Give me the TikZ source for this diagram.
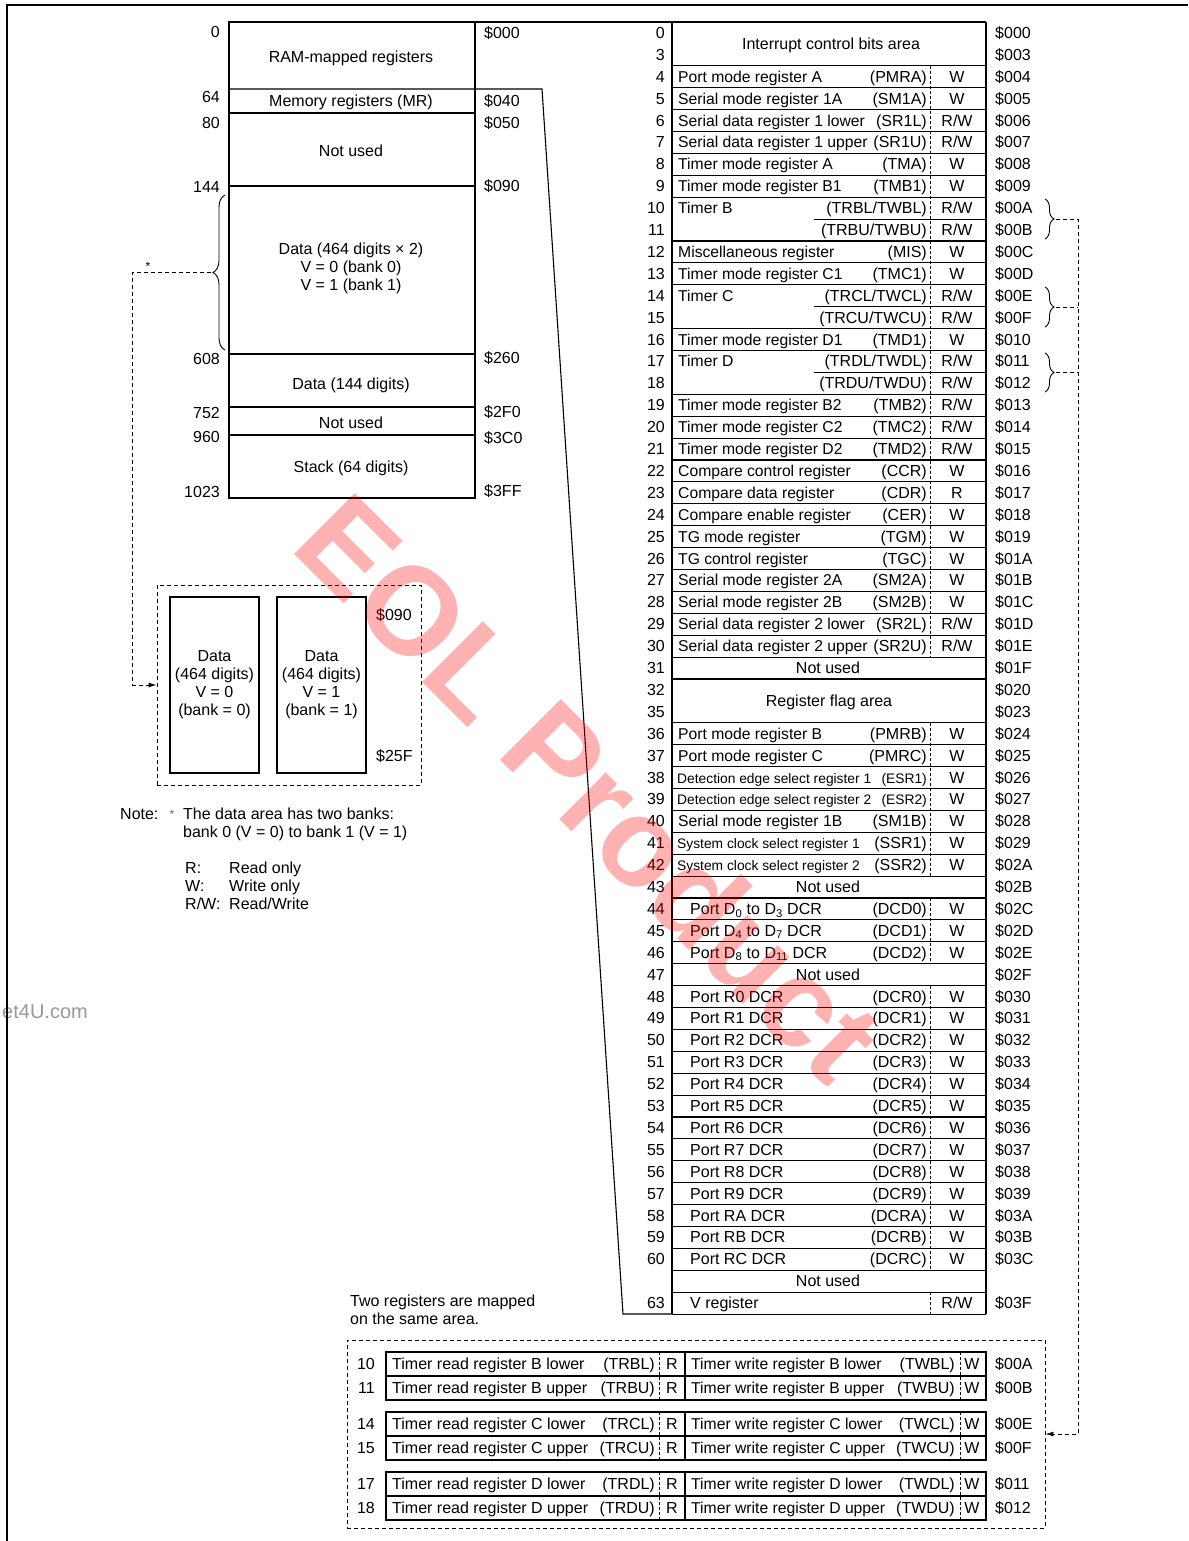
\documentclass[tikz,border=0pt]{standalone}
\usepackage{fontspec}
\setmainfont{Liberation Sans}
\usetikzlibrary{arrows.meta,positioning,calc,decorations.pathreplacing}

\begin{document}
\begin{tikzpicture}[x=1pt, y=-1pt,
  every node/.style={font=\fontsize{16}{18}\selectfont, inner sep=0pt, text height=12pt, text depth=1pt},
  multi/.style={align=center, text height={}, text depth={}},
  rule/.style={line width=1.1pt},
  lnk/.style={line width=0.9pt, dash pattern=on 4pt off 3pt},
  sep/.style={line width=0.8pt, dash pattern=on 3pt off 2pt},
  arr/.style={-{Latex[length=8pt,width=5pt]}},
  brc/.style={line width=0.9pt, decorate, decoration={brace, amplitude=#1}},
  regname/.style={font=\fontsize{15.7}{18}\selectfont},
  small/.style={font=\fontsize{13.8}{16}\selectfont},
  norm/.style={},
  fr/.style={draw, line width=1.1pt}]
\useasboundingbox (0,0) rectangle (1188,1541);
% side text and frame
\node[anchor=east, text=black!40, font=\fontsize{20}{20}\selectfont] (ds) at (88,1013) {et4U.com};
\draw[rule] (7,1541) -- (7,5) -- (1188,5);
% RAM map
\draw[rule] (229,22) rectangle (475,498);
\foreach \y in {113,186,354,407,435} \draw[rule] (229,\y) -- (475,\y);
\draw[rule] (475,22) -- (986,22);
\draw[rule] (229,89) -- (542,89) -- (623,1314) -- (672,1314);
\foreach \y/\d in {32/0,97/64,123/80,187/144,359/608,413/752,437/960,492/1023}
  \node[anchor=east] (dec\d) at (220,\y) {\d};
\foreach \y/\h in {33/000,101/040,123/050,186/090,358/260,412/2F0,438/3C0,491/3FF}
  \node[anchor=west] (hex\h) at (484,\y) {\$\h};
\node (ramreg) at (351,57) {RAM-mapped registers};
\node (memreg) at (351,101) {Memory registers (MR)};
\node (unusedA) at (351,151) {Not used};
\node[multi] (databank) at (351,268) {Data (464 digits × 2)\\V = 0 (bank 0)\\V = 1 (bank 1)};
\node (datafix) at (351,384) {Data (144 digits)};
\node (unusedB) at (351,423) {Not used};
\node (stack) at (351,467) {Stack (64 digits)};
% banks
\draw[brc=12pt] (225,350) -- (225,195);
\coordinate (bktip) at (211,272.5);
\node[font=\fontsize{12}{12}\selectfont] (bkstar) at (148,265) {*};
\node[draw, lnk, minimum width=264pt, minimum height=200pt, text height={}, text depth={}] (bankbox) at (289,685) {};
\node[fr, multi, minimum width=89pt, minimum height=176pt] (bank0) at (214.5,685) {Data\\(464 digits)\\V = 0\\(bank = 0)};
\node[fr, multi, minimum width=89pt, minimum height=176pt] (bank1) at (321.5,685) {Data\\(464 digits)\\V = 1\\(bank = 1)};
\node[anchor=west] (bktop) at (376,615) {\$090};
\node[anchor=west] (bkbot) at (376,756) {\$25F};
\draw[lnk, arr] (bktip) -| ([xshift=-24pt]bankbox.west) -- (bankbox.west);
% notes
\node[anchor=west] (note) at (120,814) {Note:};
\node[text=black!60, font=\fontsize{12}{12}\selectfont] (nstar) at (172,813) {*};
\node[anchor=west] (noteA) at (183,814) {The data area has two banks:};
\node[anchor=west] (noteB) at (183,832) {bank 0 (V = 0) to bank 1 (V = 1)};
\foreach \y/\k/\t in {868/R:/Read only,886/W:/Write only,904/{R/W:}/{Read/Write}} {
  \node[anchor=west] (key\y) at (185,\y) {\k};
  \node[anchor=west] (txt\y) at (229,\y) {\t};
}
\node[anchor=west] (mapA) at (350,1301) {Two registers are mapped};
\node[anchor=west] (mapB) at (350,1319) {on the same area.};
% register table
\draw[rule] (672,22) -- (672,1314);
\draw[rule] (986,22) -- (986,1314);
\foreach \i in {0,2,3,4,5,6,7,8,10,11,12,14,15,17,18,...,30,32,33,...,59}
  \draw[rule] (672,{22+\i*21.9}) -- (986,{22+\i*21.9});
\foreach \i in {9,13,16}
  \draw[rule] (814,{22+\i*21.9}) -- (986,{22+\i*21.9});
\foreach \a/\b in {2/29,32/39,40/43,44/57,58/59}
  \draw[sep] (930,{22+\a*21.9}) -- (930,{22+\b*21.9});
\node (intr) at (831,43.9) {Interrupt control bits area};
\node (flags) at (829,700.8) {Register flag area};
\foreach \s in {29,39,43,57}
  \node (nu\s) at (828,{22+(\s+0.5)*21.9}) {Not used};
\foreach \s/\n/\ad in {0/0/000,1/3/003,29/31/01F,30/32/020,31/35/023,39/43/02B,43/47/02F} {
  \node[anchor=east] (num\s) at (665,{22+(\s+0.5)*21.9}) {\n};
  \node[anchor=west] (adr\s) at (995,{22+(\s+0.5)*21.9}) {\$\ad};
}
\foreach \s/\n/\nm/\ab/\ac/\ad in {
  2/4/Port mode register A/(PMRA)/W/004,
  3/5/Serial mode register 1A/(SM1A)/W/005,
  4/6/Serial data register 1 lower/(SR1L)/{R/W}/006,
  5/7/Serial data register 1 upper/(SR1U)/{R/W}/007,
  6/8/Timer mode register A/(TMA)/W/008,
  7/9/Timer mode register B1/(TMB1)/W/009,
  8/10/Timer B/{(TRBL/TWBL)}/{R/W}/00A,
  9/11/{}/{(TRBU/TWBU)}/{R/W}/00B,
  10/12/Miscellaneous register/(MIS)/W/00C,
  11/13/Timer mode register C1/(TMC1)/W/00D,
  12/14/Timer C/{(TRCL/TWCL)}/{R/W}/00E,
  13/15/{}/{(TRCU/TWCU)}/{R/W}/00F,
  14/16/Timer mode register D1/(TMD1)/W/010,
  15/17/Timer D/{(TRDL/TWDL)}/{R/W}/011,
  16/18/{}/{(TRDU/TWDU)}/{R/W}/012,
  17/19/Timer mode register B2/(TMB2)/{R/W}/013,
  18/20/Timer mode register C2/(TMC2)/{R/W}/014,
  19/21/Timer mode register D2/(TMD2)/{R/W}/015,
  20/22/Compare control register/(CCR)/W/016,
  21/23/Compare data register/(CDR)/R/017,
  22/24/Compare enable register/(CER)/W/018,
  23/25/TG mode register/(TGM)/W/019,
  24/26/TG control register/(TGC)/W/01A,
  25/27/Serial mode register 2A/(SM2A)/W/01B,
  26/28/Serial mode register 2B/(SM2B)/W/01C,
  27/29/Serial data register 2 lower/(SR2L)/{R/W}/01D,
  28/30/Serial data register 2 upper/(SR2U)/{R/W}/01E,
  32/36/Port mode register B/(PMRB)/W/024,
  33/37/Port mode register C/(PMRC)/W/025,
  36/40/Serial mode register 1B/(SM1B)/W/028} {
  \pgfmathsetmacro\yc{22+(\s+0.5)*21.9}
  \node[anchor=east] (num\s) at (665,\yc) {\n};
  \node[anchor=west, regname] (reg\s) at (678,\yc) {\nm};
  \node[anchor=east] (abr\s) at (927,\yc) {\ab};
  \node (acc\s) at (957,\yc) {\ac};
  \node[anchor=west] (adr\s) at (995,\yc) {\$\ad};
}
\foreach \s/\n/\nm/\ab/\fs/\ad in {
  34/38/Detection edge select register 1/(ESR1)/small/026,
  35/39/Detection edge select register 2/(ESR2)/small/027,
  37/41/System clock select register 1/(SSR1)/norm/029,
  38/42/System clock select register 2/(SSR2)/norm/02A} {
  \pgfmathsetmacro\yc{22+(\s+0.5)*21.9}
  \node[anchor=east] (num\s) at (665,\yc) {\n};
  \node[anchor=west, small] (reg\s) at (677,\yc) {\nm};
  \node[anchor=east, \fs] (abr\s) at (927,\yc) {\ab};
  \node (acc\s) at (957,\yc) {W};
  \node[anchor=west] (adr\s) at (995,\yc) {\$\ad};
}
\foreach \s/\n/\nm/\ab/\ac/\ad in {
  40/44/{Port D\textsubscript{0} to D\textsubscript{3} DCR}/(DCD0)/W/02C,
  41/45/{Port D\textsubscript{4} to D\textsubscript{7} DCR}/(DCD1)/W/02D,
  42/46/{Port D\textsubscript{8} to D\textsubscript{11} DCR}/(DCD2)/W/02E,
  44/48/Port R0 DCR/(DCR0)/W/030,
  45/49/Port R1 DCR/(DCR1)/W/031,
  46/50/Port R2 DCR/(DCR2)/W/032,
  47/51/Port R3 DCR/(DCR3)/W/033,
  48/52/Port R4 DCR/(DCR4)/W/034,
  49/53/Port R5 DCR/(DCR5)/W/035,
  50/54/Port R6 DCR/(DCR6)/W/036,
  51/55/Port R7 DCR/(DCR7)/W/037,
  52/56/Port R8 DCR/(DCR8)/W/038,
  53/57/Port R9 DCR/(DCR9)/W/039,
  54/58/Port RA DCR/(DCRA)/W/03A,
  55/59/Port RB DCR/(DCRB)/W/03B,
  56/60/Port RC DCR/(DCRC)/W/03C,
  58/63/V register/{}/{R/W}/03F} {
  \pgfmathsetmacro\yc{22+(\s+0.5)*21.9}
  \node[anchor=east] (num\s) at (665,\yc) {\n};
  \node[anchor=west] (reg\s) at (690,\yc) {\nm};
  \node[anchor=east] (abr\s) at (927,\yc) {\ab};
  \node (acc\s) at (957,\yc) {\ac};
  \node[anchor=west] (adr\s) at (995,\yc) {\$\ad};
}
% timer pairs
\draw[brc=9pt] (1045,199) -- (1045,239);
\draw[brc=9pt] (1045,287) -- (1045,327);
\draw[brc=9pt] (1045,353) -- (1045,392);
\coordinate (tipB) at (1056,219);
\coordinate (tipC) at (1056,307);
\coordinate (tipD) at (1056,372.5);
\coordinate (trunk) at (1078,219);
\node[draw, lnk, minimum width=698pt, minimum height=188pt, text height={}, text depth={}] (pairbox) at (696,1434) {};
\draw[lnk, arr] (tipB) -| (trunk |- pairbox.east) -- (pairbox.east);
\draw[lnk] (tipC) -- (tipC -| trunk);
\draw[lnk] (tipD) -- (tipD -| trunk);
\foreach \top/\g/\na/\nb/\da/\db in {1352/B/10/11/00A/00B,1412/C/14/15/00E/00F,1472/D/17/18/011/012} {
  \draw[rule] (386,\top) rectangle (986,\top+48);
  \draw[rule] (386,\top+24) -- (986,\top+24);
  \draw[rule] (685,\top) -- (685,\top+48);
  \draw[sep] (659,\top) -- (659,\top+48);
  \draw[sep] (960,\top) -- (960,\top+48);
  \foreach \k/\n/\u/\c/\ad in {0/\na/lower/L/\da,1/\nb/upper/U/\db} {
    \pgfmathsetmacro\yc{\top+12+24*\k}
    \node[anchor=east] (pn\n) at (375,\yc) {\n};
    \node[anchor=west] (rn\n) at (392,\yc) {Timer read register \g\ \u};
    \node[anchor=east] (ra\n) at (655,\yc) {(TR\g\c)};
    \node (rr\n) at (672,\yc) {R};
    \node[anchor=west, regname] (wn\n) at (691,\yc) {Timer write register \g\ \u};
    \node[anchor=east] (wa\n) at (955,\yc) {(TW\g\c)};
    \node (ww\n) at (972,\yc) {W};
    \node[anchor=west] (pa\n) at (995,\yc) {\$\ad};
  }
}
% watermark
\node[rotate=-45, text=red, opacity=0.3, font=\fontsize{125}{125}\selectfont\bfseries, text height={}, text depth={}] (wm) at (590,787) {EOL Product};
\end{tikzpicture}
\end{document}
